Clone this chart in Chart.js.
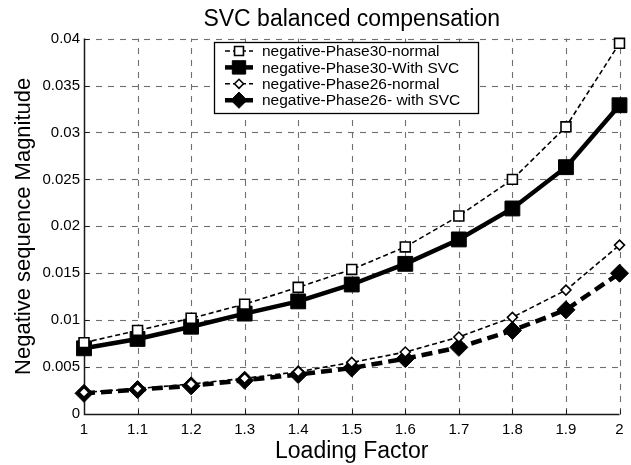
<!DOCTYPE html>
<html>
<head>
<meta charset="utf-8">
<script src="https://cdn.jsdelivr.net/npm/chart.js@4.4.1/dist/chart.umd.min.js"></script>
<style>
html,body{margin:0;padding:0;background:#fff;}
#wrap{width:631px;height:465px;}
</style>
</head>
<body>
<div id="wrap"><canvas id="c" width="631" height="465"></canvas></div>
<script>
const chartTitle = "SVC balanced compensation";
const xTitle = "Loading Factor";
const yTitle = "Negative sequence Magnitude";
const loadingFactor = [1, 1.1, 1.2, 1.3, 1.4, 1.5, 1.6, 1.7, 1.8, 1.9, 2];
const xTickLabels = ["1","1.1","1.2","1.3","1.4","1.5","1.6","1.7","1.8","1.9","2"];
const yTickLabels = ["0","0.005","0.01","0.015","0.02","0.025","0.03","0.035","0.04"];
const seriesNames = ["negative-Phase30-normal","negative-Phase30-With SVC","negative-Phase26-normal","negative-Phase26- with SVC"];
const phase30Normal = [0.0076,0.0089,0.0102,0.0117,0.0135,0.0154,0.0178,0.0211,0.0250,0.0306,0.0395];
const phase30Svc    = [0.0070,0.0080,0.0093,0.0107,0.0120,0.0138,0.0160,0.0186,0.0219,0.0263,0.0329];
const phase26Normal = [0.0023,0.0027,0.0032,0.0038,0.0045,0.0055,0.0066,0.0082,0.0103,0.0132,0.0180];
const phase26Svc    = [0.0022,0.0026,0.0030,0.0036,0.0042,0.0049,0.0059,0.0071,0.0089,0.0111,0.0150];

const FONT = "'Liberation Sans', Arial, Helvetica, sans-serif";
const pts = arr => arr.map((v,i)=>({x:loadingFactor[i], y:v}));

const datasets = [
  {label:seriesNames[0], data:pts(phase30Normal), borderColor:'#000', borderWidth:1.6, borderDash:[5,3],
   pointStyle:'rect', pointRadius:7, pointBackgroundColor:'#fff', pointBorderColor:'#000', pointBorderWidth:1.6},
  {label:seriesNames[1], data:pts(phase30Svc), borderColor:'#000', borderWidth:4.5, borderDash:[],
   pointStyle:'rect', pointRadius:10.5, pointBackgroundColor:'#000', pointBorderColor:'#000', pointBorderWidth:1},
  {label:seriesNames[2], data:pts(phase26Normal), borderColor:'#000', borderWidth:1.6, borderDash:[5,3],
   pointStyle:'rectRot', pointRadius:5, pointBackgroundColor:'#fff', pointBorderColor:'#000', pointBorderWidth:1.6},
  {label:seriesNames[3], data:pts(phase26Svc), borderColor:'#000', borderWidth:4.5, borderDash:[11,6],
   pointStyle:'rectRot', pointRadius:9, pointBackgroundColor:'#000', pointBorderColor:'#000', pointBorderWidth:1}
];
datasets.forEach(d=>{d.fill=false; d.tension=0; d.clip=false; d.backgroundColor=d.pointBackgroundColor;});

// dashed grid, axis lines, inward ticks, legend box
const decor = {
  id:'decor',
  beforeDatasetsDraw(chart){
    const ctx = chart.ctx, a = chart.chartArea;
    const xs = chart.scales.x, ys = chart.scales.y;
    ctx.save();
    ctx.strokeStyle='#6e6e6e'; ctx.lineWidth=1.1; ctx.setLineDash([6,6]);
    loadingFactor.forEach(v=>{
      const px = Math.round(xs.getPixelForValue(v))+0.5;
      if (v===loadingFactor[0]) return;
      ctx.beginPath(); ctx.moveTo(px,a.bottom); ctx.lineTo(px,a.top); ctx.stroke();
    });
    yTickLabels.forEach((t,i)=>{
      if (i===0) return;
      const py = Math.round(ys.getPixelForValue(parseFloat(t)))+0.5;
      ctx.beginPath(); ctx.moveTo(a.left,py); ctx.lineTo(a.right,py); ctx.stroke();
    });
    ctx.setLineDash([]);
    ctx.strokeStyle='#1a1a1a'; ctx.lineWidth=1.5;
    const L = Math.round(a.left)+0.5, B = Math.round(a.bottom)+0.5;
    ctx.beginPath(); ctx.moveTo(L,a.top); ctx.lineTo(L,B); ctx.lineTo(a.right,B); ctx.stroke();
    ctx.lineWidth=1;
    loadingFactor.forEach(v=>{
      const px = Math.round(xs.getPixelForValue(v))+0.5;
      ctx.beginPath(); ctx.moveTo(px,B); ctx.lineTo(px,B-5); ctx.stroke();
    });
    yTickLabels.forEach(t=>{
      const py = Math.round(ys.getPixelForValue(parseFloat(t)))+0.5;
      ctx.beginPath(); ctx.moveTo(L,py); ctx.lineTo(L+5,py); ctx.stroke();
    });
    ctx.restore();
  },
  afterDatasetsDraw(chart){
    const ctx = chart.ctx;
    ctx.save();
    const bx=214.5, by=42.5, bw=264, bh=71, rowH=16.4, row0=51;
    ctx.fillStyle='#fff'; ctx.fillRect(bx,by,bw,bh);
    ctx.strokeStyle='#000'; ctx.lineWidth=1.3; ctx.strokeRect(bx,by,bw,bh);
    ctx.font = "15.5px "+FONT; ctx.textBaseline='middle'; ctx.textAlign='left';
    chart.data.datasets.forEach((d,i)=>{
      const cy = row0 + i*rowH;
      ctx.save();
      ctx.strokeStyle=d.borderColor; ctx.lineWidth=d.borderWidth;
      ctx.setLineDash(d.borderDash||[]);
      ctx.beginPath(); ctx.moveTo(225,cy); ctx.lineTo(253,cy); ctx.stroke();
      ctx.restore();
      ctx.save();
      ctx.fillStyle=d.pointBackgroundColor; ctx.strokeStyle=d.pointBorderColor; ctx.lineWidth=d.pointBorderWidth;
      Chart.helpers.drawPoint(ctx,{pointStyle:d.pointStyle, rotation:0, radius:d.pointRadius*0.9, borderWidth:d.pointBorderWidth}, 239, cy);
      ctx.restore();
      ctx.fillStyle='#000';
      ctx.fillText(d.label, 262, cy+1);
    });
    ctx.restore();
  }
};

new Chart(document.getElementById('c'), {
  type:'line',
  data:{datasets},
  plugins:[decor],
  options:{
    responsive:false, animation:false, devicePixelRatio:1,
    layout:{padding:{left:0,right:3,top:0,bottom:0}},
    plugins:{
      legend:{display:false}, tooltip:{enabled:false},
      title:{display:true, text:chartTitle, fullSize:false, color:'#000',
        font:{family:FONT, size:23, weight:'normal'}, padding:{top:6,bottom:5}}
    },
    scales:{
      x:{type:'linear', min:1, max:2,
        afterBuildTicks(s){ s.ticks = loadingFactor.map(v=>({value:v})); },
        ticks:{autoSkip:false, maxRotation:0, color:'#000', font:{family:FONT,size:15}, padding:7,
          callback:(v,i)=>xTickLabels[i]},
        grid:{display:false, drawTicks:false, tickLength:0},
        border:{display:false},
        title:{display:true, text:xTitle, color:'#000', font:{family:FONT,size:23}, padding:{top:0,bottom:0}},
        afterFit(s){ s.height = 51; s.paddingLeft=0; s.paddingRight=0; }
      },
      y:{type:'linear', min:0, max:0.04,
        afterBuildTicks(s){ s.ticks = yTickLabels.map(t=>({value:parseFloat(t)})); },
        ticks:{autoSkip:false, color:'#000', font:{family:FONT,size:15}, padding:4,
          callback:(v,i)=>yTickLabels[i]},
        grid:{display:false, drawTicks:false, tickLength:0},
        border:{display:false},
        title:{display:true, text:yTitle, color:'#000', font:{family:FONT,size:22}, padding:{top:11,bottom:0}},
        afterFit(s){ s.width = 84; }
      }
    }
  }
});
</script>
</body>
</html>
